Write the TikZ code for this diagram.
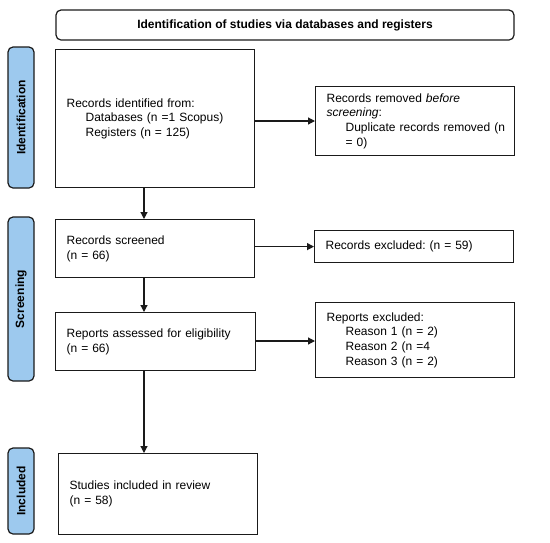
\documentclass[tikz,border=0pt]{standalone}
\usepackage{fontspec}
\setmainfont{Liberation Sans}
\frenchspacing
\usetikzlibrary{arrows.meta,calc}
\definecolor{sideblue}{HTML}{9DC9EE}
\definecolor{edge}{HTML}{1A1A1A}
\tikzset{
  box/.style={draw=edge, line width=1.2pt, rectangle, inner xsep=11pt, inner ysep=0pt, align=left,
    font=\fontsize{12}{14.7}\selectfont, anchor=north west},
  sidelabel/.style={draw=edge, line width=1.2pt, fill=sideblue, rounded corners=5pt, rotate=90,
    font=\fontsize{12}{14}\bfseries\selectfont, inner sep=0pt},
  conn/.style={draw=edge, line width=1.2pt, -{Triangle[length=7pt,width=7pt]}}
}
\newcommand{\bx}[6]{% name, x1, y1, x2, y2, text
  \node[box, minimum width={#4-#2}, minimum height={#5-#3}, text width={#4-#2-22}] (#1) at (#2,#3) {#6};}
\newcommand{\ind}{\hspace*{19pt}}
\begin{document}
\begin{tikzpicture}[x=1pt,y=-1pt]
\useasboundingbox (0,0) rectangle (550,542);
% title
\node[draw=edge, line width=1.2pt, rounded corners=5pt, minimum width=458, minimum height=30,
  font=\fontsize{12}{14}\bfseries\selectfont, inner sep=0pt] (title) at (285,25)
  {Identification of studies via databases and registers};
% side labels
\node[sidelabel, minimum width=141, minimum height=26] (sid) at (21,117.5) {Identification};
\node[sidelabel, minimum width=164, minimum height=26] (sscr) at (21,299) {Screening};
\node[sidelabel, minimum width=86, minimum height=26] (sinc) at (21,491) {Included};
% boxes
\bx{ident}{55}{49}{254}{187}{Records identified from:\\\ind Databases (n =1 Scopus)\\\ind Registers (n = 125)}
\bx{removed}{315}{86}{514}{155}{Records removed \textit{before}\\\textit{screening}:\\\ind\mbox{Duplicate records removed (n}\\\ind = 0)}
\bx{screened}{55}{219}{254}{277}{Records screened\\(n = 66)}
\bx{recexcl}{314}{230}{513}{262}{Records excluded: (n = 59)}
\bx{assessed}{55}{312}{255}{370}{Reports assessed for eligibility\\(n = 66)}
\bx{repexcl}{315}{302}{514}{377}{Reports excluded:\\\ind Reason 1 (n = 2)\\\ind Reason 2 (n =4\\\ind Reason 3 (n = 2)}
\bx{included}{58}{453}{257}{534}{Studies included in review\\(n = 58)}
% connectors
\coordinate (ax) at (144,0);
\draw[conn] (ident.south -| ax) -- (screened.north -| ax);
\draw[conn] (screened.south -| ax) -- (assessed.north -| ax);
\draw[conn] (assessed.south -| ax) -- (included.north -| ax);
\draw[conn] (ident.east |- 0,121) -- (removed.west |- 0,121);
\draw[conn] (screened.east |- recexcl.west) -- (recexcl.west);
\draw[conn] (assessed.east |- 0,341) -- (repexcl.west |- 0,341);
\end{tikzpicture}
\end{document}
